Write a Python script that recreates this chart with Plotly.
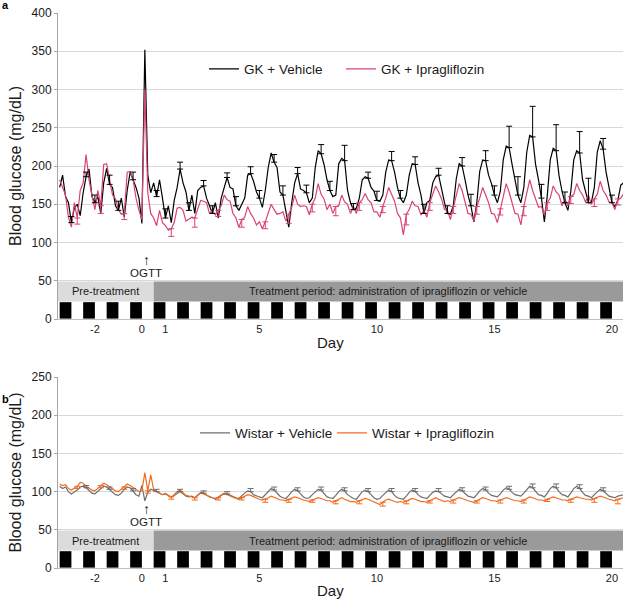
import plotly.graph_objects as go

# ---------------- data (3-hour readings, first point at day -3.5) ----------------
START_DAY = -3.5
STEP_DAY = 0.125

gk_vehicle = [
    172, 188, 160, 152,
    126, 145, 150, 135, 165, 186, 196, 160,
    152, 160, 138, 178, 197, 176, 172, 148,
    142, 158, 133, 168, 192, 182, 172, 158,
    125, 352, 188, 165, 178, 160, 182, 158,
    132, 148, 126, 155, 172, 196, 178, 166,
    142, 162, 138, 168, 172, 174, 158, 148,
    138, 152, 132, 158, 170, 185, 172, 170,
    148, 142, 150, 158, 188, 190, 180, 166,
    158, 146, 168, 198, 217, 205, 198, 166,
    162, 138, 120, 152, 178, 190, 170, 168,
    165, 152, 158, 198, 220, 216, 202, 182,
    168, 160, 162, 203, 210, 207, 168, 152,
    143, 145, 158, 182, 186, 184, 172, 167,
    155, 154, 162, 192, 208, 207, 192, 172,
    158, 152, 162, 188, 203, 202, 178, 162,
    138, 152, 155, 178, 186, 188, 168, 152,
    138, 137, 148, 183, 203, 200, 182, 162,
    148, 127, 152, 193, 208, 207, 188, 177,
    162, 152, 167, 208, 226, 224, 202, 182,
    162, 152, 172, 218, 240, 238, 202, 182,
    158, 127, 162, 208, 223, 220, 187, 167,
    152, 142, 167, 208, 220, 217, 182, 167,
    152, 152, 172, 218, 233, 222, 192, 172,
    152, 147, 155, 175, 178,
]

gk_ipragliflozin = [
    182, 172, 162, 133,
    120, 152, 132, 168, 178, 215, 182, 162,
    143, 168, 148, 202, 203, 182, 162, 157,
    143, 137, 138, 192, 193, 182, 158, 142,
    130, 300, 165, 138, 132, 122, 142, 126,
    122, 116, 118, 126, 145, 146, 142, 128,
    130, 133, 132, 143, 155, 154, 152, 138,
    142, 136, 142, 148, 162, 156, 154, 138,
    132, 120, 130, 133, 147, 138, 132, 123,
    127, 118, 127, 138, 150, 143, 137, 138,
    140, 128, 137, 146, 162, 150, 147, 148,
    147, 136, 150, 158, 177, 163, 157, 143,
    150, 138, 147, 148, 162, 153, 150, 138,
    147, 138, 152, 156, 164, 156, 152, 140,
    140, 133, 147, 158, 172, 163, 154, 138,
    132, 110, 137, 143, 154, 148, 147, 136,
    142, 133, 152, 163, 174, 166, 157, 143,
    142, 130, 147, 163, 177, 168, 152, 138,
    137, 128, 147, 158, 172, 163, 152, 138,
    137, 126, 144, 158, 177, 166, 152, 138,
    137, 123, 147, 163, 182, 168, 157, 146,
    147, 136, 152, 158, 174, 166, 162, 148,
    157, 148, 160, 163, 177, 168, 162, 153,
    162, 150, 157, 163, 180, 168, 162, 153,
    152, 143, 157, 158, 164,
]

wistar_vehicle = [
    107, 104, 106, 100,
    97, 99, 102, 106, 107, 105, 101, 98,
    97, 100, 103, 107, 106, 103, 99, 96,
    95, 98, 103, 106, 105, 101, 96, 94,
    108, 88, 99, 103, 102, 100, 98, 96,
    97, 95, 93, 95, 98, 100, 97, 94,
    93, 94, 92, 96, 99, 98, 95, 93,
    92, 90, 93, 96, 98, 97, 95, 93,
    92, 91, 95, 98, 101, 100, 96, 94,
    93, 92, 96, 101, 104, 102, 98, 94,
    92, 91, 95, 100, 103, 101, 97, 93,
    91, 92, 96, 100, 103, 102, 97, 93,
    92, 91, 95, 100, 103, 101, 96, 93,
    91, 90, 95, 100, 102, 100, 96, 92,
    90, 91, 95, 99, 102, 100, 95, 92,
    91, 90, 94, 99, 102, 100, 96, 93,
    92, 91, 95, 99, 101, 100, 97, 94,
    93, 92, 96, 100, 103, 101, 97, 94,
    93, 92, 96, 101, 104, 102, 98, 95,
    94, 93, 97, 102, 105, 103, 99, 96,
    95, 94, 98, 103, 107, 105, 100, 96,
    95, 93, 98, 104, 107, 105, 100, 96,
    95, 93, 98, 104, 107, 104, 99, 95,
    94, 92, 96, 100, 103, 101, 97, 94,
    93, 92, 94, 95, 96,
]

wistar_ipragliflozin = [
    110, 108, 109, 104,
    102, 104, 107, 112, 111, 107, 104, 102,
    101, 104, 108, 111, 109, 106, 103, 101,
    100, 103, 106, 110, 108, 105, 102, 100,
    101, 125, 101, 122, 103, 100, 98, 96,
    98, 95, 93, 96, 100, 102, 98, 95,
    94, 93, 92, 95, 98, 97, 95, 93,
    92, 91, 92, 95, 97, 96, 94, 92,
    91, 90, 92, 94, 96, 95, 93, 91,
    90, 89, 90, 92, 94, 93, 91, 89,
    89, 88, 90, 92, 93, 92, 90, 89,
    88, 87, 89, 91, 92, 91, 89, 88,
    88, 86, 88, 90, 92, 90, 88, 87,
    87, 86, 88, 90, 91, 90, 88, 86,
    85, 83, 86, 89, 90, 89, 87, 86,
    87, 86, 88, 90, 91, 90, 88, 87,
    87, 86, 88, 90, 92, 90, 88, 87,
    88, 87, 89, 91, 92, 91, 89, 88,
    87, 86, 88, 90, 92, 91, 89, 88,
    88, 87, 89, 91, 92, 91, 89, 88,
    88, 87, 89, 91, 93, 92, 90, 89,
    89, 88, 90, 92, 93, 92, 90, 89,
    89, 88, 90, 92, 93, 92, 91, 90,
    90, 89, 91, 93, 94, 93, 91, 90,
    89, 88, 90, 91, 92,
]

# SEM bars (one value per day, starting at day -3)
gk_vehicle_sem_peak = [6, 12, 10, 8, 9, 7, 6, 9, 10, 8, 12, 20, 8, 12, 10, 9, 11, 13, 28, 40, 34, 28, 14]   # at day+0.625
gk_vehicle_sem_night = [8, 10, 12, 0, 12, 10, 10, 12, 10, 12, 10, 12, 8, 12, 10, 12, 10, 15, 12, 24, 18, 14, 32, 10]  # at day+0.0
gk_ipra_sem = [8, 10, 8, 0, 10, 12, 8, 10, 9, 12, 10, 12, 10, 8, 14, 10, 9, 10, 8, 12, 10, 9, 10, 8]          # at day+0.25
wistar_vehicle_sem = [3, 3, 3, 3, 3, 3, 3, 4, 4, 4, 4, 4, 4, 4, 4, 4, 4, 4, 4, 5, 5, 5, 4]                # at day+0.625
wistar_ipra_sem = [3, 3, 3, 3, 3, 3, 3, 3, 4, 4, 3, 4, 4, 5, 4, 3, 4, 3, 4, 4, 3, 4, 5, 6]               # at day+0.25

tick_days = [-2, 0, 1, 5, 10, 15, 20]
tick_labels = ["-2", "0", "1", "5", "10", "15", "20"]

series_labels = ["GK + Vehicle", "GK + Ipragliflozin", "Wistar + Vehicle", "Wistar + Ipragliflozin"]
series_colors = ["#000000", "#d8437a", "#6e6e6e", "#f26c1e"]

# ---------------- layout constants ----------------
W, H = 625, 600
ML, MR, MT, MB = 58, 2, 13, 32
PW, PH = W - ML - MR, H - MT - MB
X_RANGE = [-3.57, 20.47]
TREAT_START = 0.5
FIRST_DAY = -3


def px(xp):
    return (xp - ML) / PW


def py(yp):
    return (H - MB - yp) / PH


days = [START_DAY + i * STEP_DAY for i in range(len(gk_vehicle))]


def idx(d):
    return int(round((d - START_DAY) / STEP_DAY))


def sem_points(series, sems, phase, first_day=FIRST_DAY):
    xs, ys, es = [], [], []
    for j, e in enumerate(sems):
        d = first_day + j + phase
        i = idx(d)
        if e and 0 <= i < len(series):
            xs.append(days[i]); ys.append(series[i]); es.append(e)
    return xs, ys, es


fig = go.Figure()

LW = 1.2
# top panel
fig.add_trace(go.Scatter(x=days, y=gk_vehicle, mode="lines", name=series_labels[0],
                         line=dict(color=series_colors[0], width=LW), xaxis="x", yaxis="y", legend="legend"))
fig.add_trace(go.Scatter(x=days, y=gk_ipragliflozin, mode="lines", name=series_labels[1],
                         line=dict(color=series_colors[1], width=LW), xaxis="x", yaxis="y", legend="legend3"))

for series, sems, phase, col, up in [
    (gk_vehicle, gk_vehicle_sem_peak, 0.625, series_colors[0], True),
    (gk_vehicle, gk_vehicle_sem_night, 0.0, series_colors[0], True),
    (gk_ipragliflozin, gk_ipra_sem, 0.25, series_colors[1], False),
]:
    xs, ys, es = sem_points(series, sems, phase)
    fig.add_trace(go.Scatter(
        x=xs, y=ys, mode="markers", marker=dict(size=1, color=col), showlegend=False,
        hoverinfo="skip", xaxis="x", yaxis="y",
        error_y=dict(type="data", symmetric=False,
                     array=es if up else [0] * len(es),
                     arrayminus=[0] * len(es) if up else es,
                     color=col, thickness=1, width=3)))

# bottom panel
fig.add_trace(go.Scatter(x=days, y=wistar_vehicle, mode="lines", name=series_labels[2],
                         line=dict(color=series_colors[2], width=LW), xaxis="x2", yaxis="y2", legend="legend2"))
fig.add_trace(go.Scatter(x=days, y=wistar_ipragliflozin, mode="lines", name=series_labels[3],
                         line=dict(color=series_colors[3], width=LW), xaxis="x2", yaxis="y2", legend="legend4"))

for series, sems, phase, col, up in [
    (wistar_vehicle, wistar_vehicle_sem, 0.625, series_colors[2], True),
    (wistar_ipragliflozin, wistar_ipra_sem, 0.25, series_colors[3], False),
]:
    xs, ys, es = sem_points(series, sems, phase)
    fig.add_trace(go.Scatter(
        x=xs, y=ys, mode="markers", marker=dict(size=1, color=col), showlegend=False,
        hoverinfo="skip", xaxis="x2", yaxis="y2",
        error_y=dict(type="data", symmetric=False,
                     array=es if up else [0] * len(es),
                     arrayminus=[0] * len(es) if up else es,
                     color=col, thickness=1, width=3)))

# ---------------- shapes: light/dark bars and period bands ----------------
shapes = []
for xr, yr in [("x", "y"), ("x2", "y2")]:
    shapes.append(dict(type="rect", xref=xr, yref=yr, x0=X_RANGE[0], x1=TREAT_START, y0=23, y1=49,
                       fillcolor="#dcdcdc", line=dict(width=0), layer="above"))
    shapes.append(dict(type="rect", xref=xr, yref=yr, x0=TREAT_START, x1=X_RANGE[1], y0=23, y1=49,
                       fillcolor="#9a9a9a", line=dict(width=0), layer="above"))
    for k in range(FIRST_DAY, 21):
        shapes.append(dict(type="rect", xref=xr, yref=yr, x0=max(k - 0.5, X_RANGE[0]), x1=k, y0=0.5, y1=22,
                           fillcolor="#000000", line=dict(width=0), layer="above"))

font_family = "Liberation Sans, Arial, sans-serif"
txt = "#1a1a1a"

annotations = []
for xr, yr, top_px, lbl, day_y in [("x", "y", 5, "a", 343), ("x2", "y2", 399, "b", 590)]:
    annotations += [
        dict(text="Pre-treatment", xref=xr, yref=yr, x=(X_RANGE[0] + TREAT_START) / 2, y=36,
             showarrow=False, font=dict(size=11, color=txt)),
        dict(text="Treatment period: administration of ipragliflozin or vehicle", xref=xr, yref=yr,
             x=(TREAT_START + X_RANGE[1]) / 2, y=36, showarrow=False, font=dict(size=11, color=txt)),
        dict(text="↑", xref=xr, yref=yr, x=0.19, y=77, showarrow=False, font=dict(size=14, color=txt)),
        dict(text="OGTT", xref=xr, yref=yr, x=0.19, y=60, showarrow=False, font=dict(size=11.5, color=txt)),
        dict(text="<b>" + lbl + "</b>", xref="paper", yref="paper", x=px(0), y=py(top_px),
             xanchor="left", yanchor="middle", showarrow=False, font=dict(size=11, color="#000")),
        dict(text="Day", xref="paper", yref="paper", x=px(330), y=py(day_y), xanchor="center",
             yanchor="middle", showarrow=False, font=dict(size=15, color=txt)),
    ]

axis_common = dict(tickfont=dict(size=12, color=txt), gridcolor="#d9d9d9", gridwidth=1,
                   showline=True, linecolor="#a6a6a6", linewidth=1, ticks="outside", ticklen=3,
                   tickcolor="#a6a6a6", zeroline=False, dtick=50, tick0=0, automargin=False)
xaxis_common = dict(range=X_RANGE, tickvals=tick_days, ticktext=tick_labels, showgrid=False,
                    showline=True, linecolor="#bfbfbf", ticks="", zeroline=False, automargin=False,
                    tickfont=dict(size=11, color=txt))

legend_common = dict(orientation="h", xanchor="left", yanchor="middle", bgcolor="rgba(0,0,0,0)",
                     font=dict(size=13.5, color=txt), itemwidth=30, borderwidth=0)

fig.update_layout(
    width=W, height=H,
    margin=dict(l=ML, r=MR, t=MT, b=MB),
    plot_bgcolor="white", paper_bgcolor="white",
    font=dict(family=font_family, color=txt),
    xaxis=dict(domain=[0, 1], anchor="y", **xaxis_common),
    xaxis2=dict(domain=[0, 1], anchor="y2", **xaxis_common),
    yaxis=dict(domain=[py(319), 1], anchor="x", range=[0, 400],
               title=dict(text="Blood glucose (mg/dL)", font=dict(size=16, color=txt), standoff=5),
               **axis_common),
    yaxis2=dict(domain=[0, py(377)], anchor="x2", range=[0, 250],
                title=dict(text="Blood glucose (mg/dL)", font=dict(size=16, color=txt), standoff=5),
                **axis_common),
    legend=dict(x=px(204), y=py(69), **legend_common),
    legend3=dict(x=px(341), y=py(69), **legend_common),
    legend2=dict(x=px(195), y=py(433), **legend_common),
    legend4=dict(x=px(332), y=py(433), **legend_common),
    shapes=shapes,
    annotations=annotations,
    showlegend=True,
)

fig.write_html("out.html", config={"displayModeBar": False},
               post_script="document.body.style.margin='0px';")
